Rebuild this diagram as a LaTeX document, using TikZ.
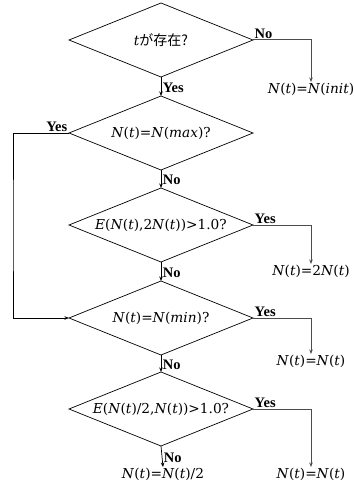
\documentclass[tikz,border=0pt]{standalone}
\usepackage{fontspec}
\setmainfont{Liberation Serif}
\newfontfamily\fml{DejaVu Serif}
\newfontfamily\cjk{Noto Sans CJK JP}
\usetikzlibrary{arrows.meta}
\newcommand\mydmd[4]{%
  \node[txt] (#1) at (#2,#3) {#4};
  \coordinate (#1-n) at (#2,#3-37);
  \coordinate (#1-s) at (#2,#3+37);
  \coordinate (#1-e) at (#2+92,#3);
  \coordinate (#1-w) at (#2-92,#3);
  \draw[dline] (#1-n) -- (#1-e) -- (#1-s) -- (#1-w) -- cycle;}
\begin{document}
\begin{tikzpicture}[x=1pt,y=-1pt,
  txt/.style={inner sep=1pt, font=\fml\fontsize{13.7}{15}\selectfont},
  dline/.style={draw, line width=0.7pt, line join=miter},
  lab/.style={inner sep=1.5pt, font=\fontsize{14.5}{16}\selectfont\bfseries},
  arr/.style={draw, line width=0.7pt, -{Stealth[length=4.5pt,width=3.5pt]}},
  garr/.style={arr, draw=black!70, line width=1pt}]
\useasboundingbox (0,0) rectangle (353,489);
\mydmd{d1}{161}{40}{\textit{t}{\cjk\fontsize{14}{15}\selectfont が存在?}}
\mydmd{d2}{161}{133}{\textit{N}(\textit{t})=\textit{N}(\textit{max})?}
\mydmd{d3}{161}{225}{\textit{E}(\textit{N}(\textit{t}),2\textit{N}(\textit{t}))>1.0?}
\mydmd{d4}{161}{318}{\textit{N}(\textit{t})=\textit{N}(\textit{min})?}
\mydmd{d5}{161}{409}{\textit{E}(\textit{N}(\textit{t})/2,\textit{N}(\textit{t}))>1.0?}
\node[txt, anchor=north] (r1) at (311,82) {\textit{N}(\textit{t})=\textit{N}(\textit{init})};
\node[txt, anchor=north] (r3) at (311,264) {\textit{N}(\textit{t})=2\textit{N}(\textit{t})};
\node[txt, anchor=north] (r4) at (311,354) {\textit{N}(\textit{t})=\textit{N}(\textit{t})};
\node[txt, anchor=north] (r5) at (311,467) {\textit{N}(\textit{t})=\textit{N}(\textit{t})};
\node[txt, anchor=north] (r6) at (163,467) {\textit{N}(\textit{t})=\textit{N}(\textit{t})/2};
\coordinate (lk) at (13,225);
% vertical connectors
\draw[arr] (d1-s) -- node[lab, right, pos=0.55] {Yes} (d2-n);
\draw[arr] (d2-s) -- node[lab, right, pos=0.55] {No} (d3-n);
\draw[arr] (d3-s) -- node[lab, right, pos=0.55] {No} (d4-n);
\draw[arr] (d4-s) -- node[lab, right, pos=0.55] {No} (d5-n);
\draw[arr] (d5-s) -- node[lab, right, pos=0.55] {No} (r6.north);
% right branches
\draw[garr] (d1-e) -| (r1.north);
\draw[garr] (d3-e) -| (r3.north);
\draw[garr] (d4-e) -| (r4.north);
\draw[garr] (d5-e) -| (r5.north);
\node[lab, anchor=south west] at (d1-e) {No};
\node[lab, anchor=south west] at (d3-e) {Yes};
\node[lab, anchor=south west] at (d4-e) {Yes};
\node[lab, anchor=south west] at (d5-e) {Yes};
% left branch
\draw[arr] (d2-w) -| (lk) |- (d4-w);
\node[lab, anchor=south east] at (d2-w) {Yes};
\end{tikzpicture}
\end{document}
